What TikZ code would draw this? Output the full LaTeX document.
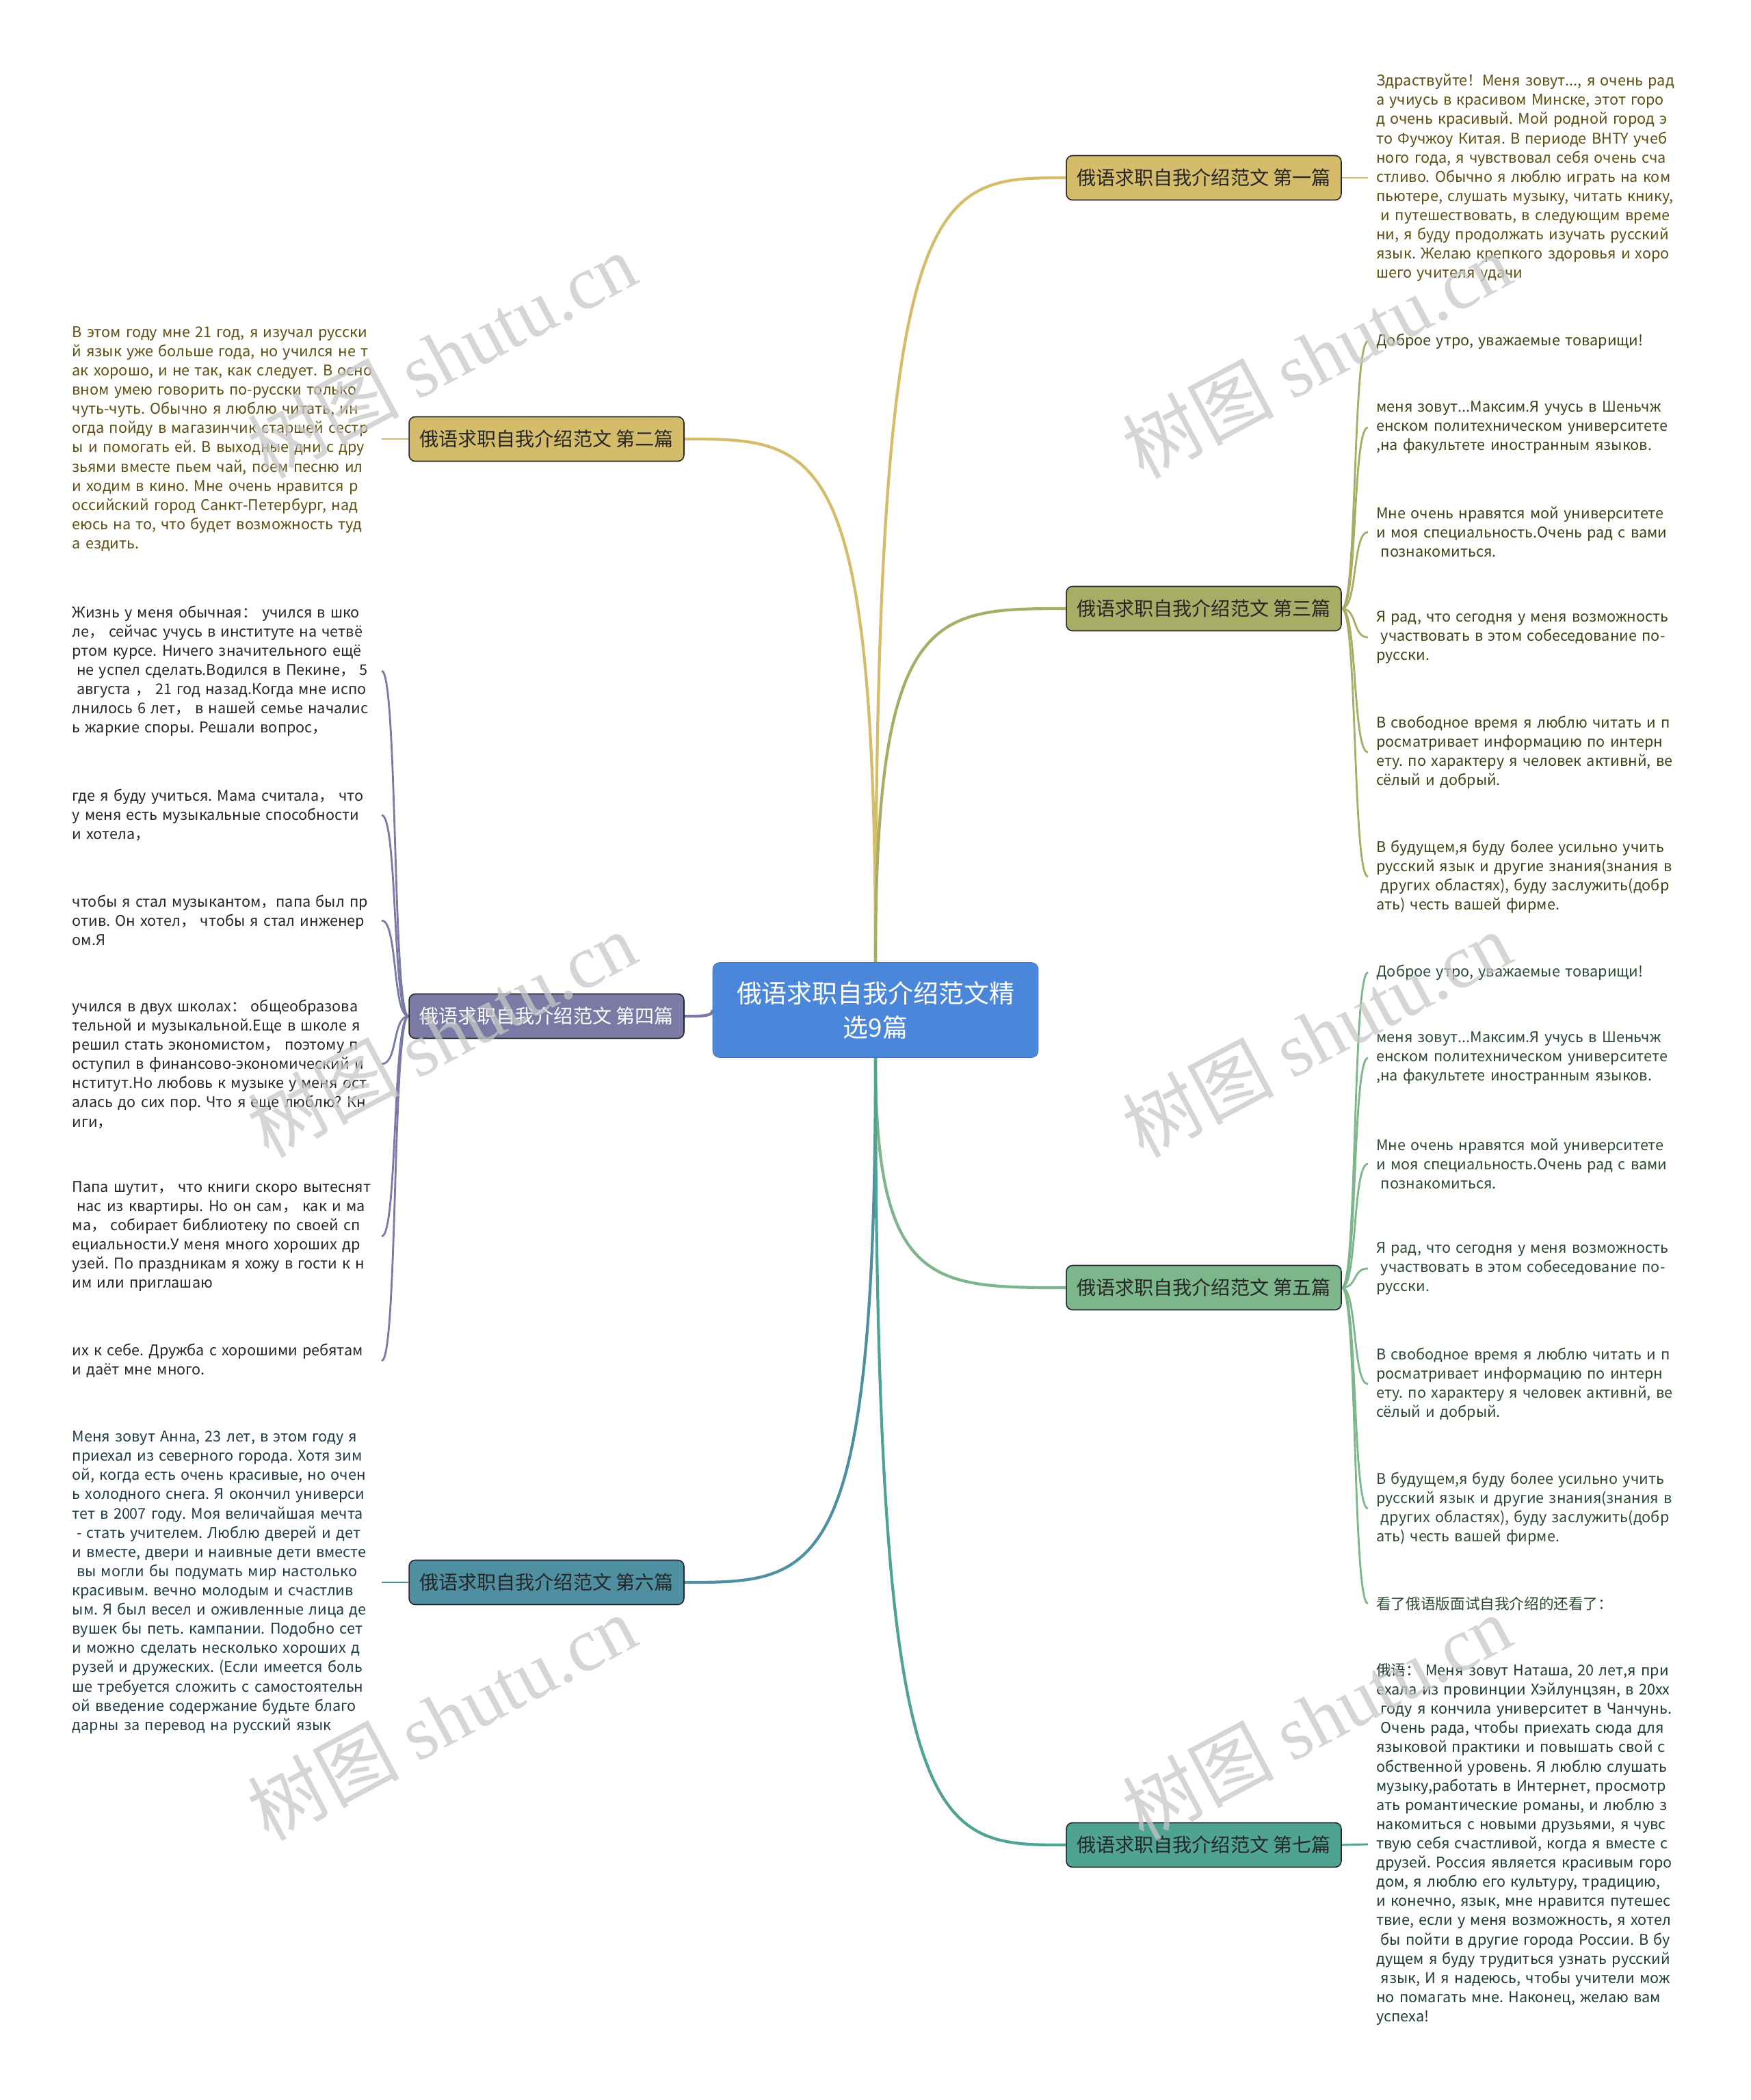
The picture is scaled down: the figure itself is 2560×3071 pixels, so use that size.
\documentclass[tikz,border=0pt]{standalone}
\usepackage{fontspec}
\setmainfont{Noto Sans CJK SC}
\newfontfamily\wmfont{Liberation Serif}
\usetikzlibrary{calc, backgrounds}
\frenchspacing

\definecolor{rootblue}{HTML}{4A86DA}
\definecolor{goldc}{HTML}{D4BC6A}
\definecolor{olivec}{HTML}{A8AD66}
\definecolor{slatec}{HTML}{7B7AA6}
\definecolor{sagec}{HTML}{7DB68B}
\definecolor{tealc}{HTML}{4F8FA2}
\definecolor{jadec}{HTML}{4EA393}
\definecolor{goldtext}{HTML}{5E4E12}
\definecolor{olivetext}{HTML}{3E4416}
\definecolor{slatetext}{HTML}{262626}
\definecolor{sagetext}{HTML}{2C4A31}
\definecolor{tealtext}{HTML}{1F3B45}
\definecolor{jadetext}{HTML}{1F3D37}

\tikzset{
  root/.style={draw=rootblue!85!black, fill=rootblue, text=white, rounded corners=0.2cm,
    minimum width=9.52cm, minimum height=2.78cm, align=center, font={\fontsize{21}{28.5}\selectfont}},
  topic/.style={draw=black!85, line width=0.9pt, rounded corners=0.18cm, minimum width=8.04cm,
    minimum height=1.3cm, inner xsep=0.2cm, text=black!85, font={\fontsize{16}{19}\selectfont}},
  leaf/.style={align=left, text width=9cm, inner xsep=0.24cm, inner ysep=2pt, font={\fontsize{12.3}{16}\selectfont}},
  lleaf/.style={leaf, text width=8.8cm},
  branch/.style={line width=2.4pt, to path={.. controls (\tikztostart |- \tikztotarget)
    and ($(\tikztostart |- \tikztotarget)!0.3!(\tikztotarget)$) .. (\tikztotarget)}},
  twig/.style={line width=1.6pt, to path={.. controls ($(\tikztostart)!0.6!(\tikztostart -| \tikztotarget)$)
    and ($(\tikztotarget)!0.6!(\tikztotarget -| \tikztostart)$) .. (\tikztotarget)}},
  wmtext/.style={text=black!22, opacity=0.75, rotate=28, font={\fontsize{63}{65}\selectfont}}
}

\begin{document}
\begin{tikzpicture}[x=0.02cm, y=-0.02cm]
  \useasboundingbox (0,0) rectangle (2560,3071);

  \node (c) at (1280,1477)[root] {俄语求职自我介绍范文精\\选9篇};

  \node (b1) at (1760,260)[topic,fill=goldc] {俄语求职自我介绍范文 第一篇};
  \node (b2) at (799,642)[topic,fill=goldc] {俄语求职自我介绍范文 第二篇};
  \node (b3) at (1760,890)[topic,fill=olivec] {俄语求职自我介绍范文 第三篇};
  \node (b4) at (799,1486)[topic,fill=slatec,text=white] {俄语求职自我介绍范文 第四篇};
  \node (b5) at (1760,1883)[topic,fill=sagec] {俄语求职自我介绍范文 第五篇};
  \node (b6) at (799,2314)[topic,fill=tealc] {俄语求职自我介绍范文 第六篇};
  \node (b7) at (1760,2698)[topic,fill=jadec] {俄语求职自我介绍范文 第七篇};

  \node (t1) at (2000,260)[leaf,anchor=west,text=goldtext] {Здраствуйте！Меня зовут..., я очень рад\\
    а учиусь в красивом Минске, этот горо\\
    д очень красивый. Мой родной город э\\
    то Фучжоу Китая. В периоде ВНТY учеб\\
    ного года, я чувствовал себя очень сча\\
    стливо. Обычно я люблю играть на ком\\
    пьютере, слушать музыку, читать книку,\\
    \hspace*{0.3em}и путешествовать, в следующим време\\
    ни, я буду продолжать изучать русский\\
    язык. Желаю крепкого здоровья и хоро\\
    шего учителя удачи};

  \node (t2) at (558,642)[lleaf,anchor=east,text=goldtext] {В этом году мне 21 год, я изучал русски\\
    й язык уже больше года, но учился не т\\
    ак хорошо, и не так, как следует. В осно\\
    вном умею говорить по-русски только\\
    чуть-чуть. Обычно я люблю читать, ин\\
    огда пойду в магазинчик старшей сестр\\
    ы и помогать ей. В выходные дни с дру\\
    зьями вместе пьем чай, поем песню ил\\
    и ходим в кино. Мне очень нравится р\\
    оссийский город Санкт-Петербург, над\\
    еюсь на то, что будет возможность туд\\
    а ездить.};

  \node (l31) at (2000,499)[leaf,anchor=west,text=olivetext] {Доброе утро, уважаемые товарищи!};
  \node (l32) at (2000,625)[leaf,anchor=west,text=olivetext] {меня зовут...Максим.Я учусь в Шеньчж\\
    енском политехническом университете\\
    ,на факультете иностранным языков.};
  \node (l33) at (2000,778)[leaf,anchor=west,text=olivetext] {Мне очень нравятся мой университете\\
    и моя специальность.Очень рад с вами\\
    \hspace*{0.3em}познакомиться.};
  \node (l34) at (2000,932)[leaf,anchor=west,text=olivetext] {Я рад, что сегодня у меня возможность\\
    \hspace*{0.3em}участвовать в этом собеседование по-\\
    русски.};
  \node (l35) at (2000,1100)[leaf,anchor=west,text=olivetext] {В свободное время я люблю читать и п\\
    росматривает информацию по интерн\\
    ету. по характеру я человек активнй, ве\\
    сёлый и добрый.};
  \node (l36) at (2000,1282)[leaf,anchor=west,text=olivetext] {В будущем,я буду более усильно учить\\
    русский язык и другие знания(знания в\\
    \hspace*{0.3em}других областях), буду заслужить(добр\\
    ать) честь вашей фирме.};

  \node (l41) at (558,981)[lleaf,anchor=east,text=slatetext] {Жизнь у меня обычная： учился в шко\\
    ле， сейчас учусь в институте на четвё\\
    ртом курсе. Ничего значительного ещё\\
    \hspace*{0.3em}не успел сделать.Водился в Пекине， 5\\
    \hspace*{0.3em}августа ， 21 год назад.Когда мне испо\\
    лнилось 6 лет， в нашей семье началис\\
    ь жаркие споры. Решали вопрос，};
  \node (l42) at (558,1192)[lleaf,anchor=east,text=slatetext] {где я буду учиться. Мама считала， что\\
    у меня есть музыкальные способности\\
    и хотела，};
  \node (l43) at (558,1346)[lleaf,anchor=east,text=slatetext] {чтобы я стал музыкантом，папа был пр\\
    отив. Он хотел， чтобы я стал инженер\\
    ом.Я};
  \node (l44) at (558,1556)[lleaf,anchor=east,text=slatetext] {учился в двух школах： общеобразова\\
    тельной и музыкальной.Еще в школе я\\
    решил стать экономистом， поэтому п\\
    оступил в финансово-экономический и\\
    нститут.Но любовь к музыке у меня ост\\
    алась до сих пор. Что я еще люблю? Кн\\
    иги，};
  \node (l45) at (558,1808)[lleaf,anchor=east,text=slatetext] {Папа шутит， что книги скоро вытеснят\\
    \hspace*{0.3em}нас из квартиры. Но он сам， как и ма\\
    ма， собирает библиотеку по своей сп\\
    ециальности.У меня много хороших др\\
    узей. По праздникам я хожу в гости к н\\
    им или приглашаю};
  \node (l46) at (558,1990)[lleaf,anchor=east,text=slatetext] {их к себе. Дружба с хорошими ребятам\\
    и даёт мне много.};

  \node (l51) at (2000,1422)[leaf,anchor=west,text=sagetext] {Доброе утро, уважаемые товарищи!};
  \node (l52) at (2000,1547)[leaf,anchor=west,text=sagetext] {меня зовут...Максим.Я учусь в Шеньчж\\
    енском политехническом университете\\
    ,на факультете иностранным языков.};
  \node (l53) at (2000,1702)[leaf,anchor=west,text=sagetext] {Мне очень нравятся мой университете\\
    и моя специальность.Очень рад с вами\\
    \hspace*{0.3em}познакомиться.};
  \node (l54) at (2000,1855)[leaf,anchor=west,text=sagetext] {Я рад, что сегодня у меня возможность\\
    \hspace*{0.3em}участвовать в этом собеседование по-\\
    русски.};
  \node (l55) at (2000,2024)[leaf,anchor=west,text=sagetext] {В свободное время я люблю читать и п\\
    росматривает информацию по интерн\\
    ету. по характеру я человек активнй, ве\\
    сёлый и добрый.};
  \node (l56) at (2000,2206)[leaf,anchor=west,text=sagetext] {В будущем,я буду более усильно учить\\
    русский язык и другие знания(знания в\\
    \hspace*{0.3em}других областях), буду заслужить(добр\\
    ать) честь вашей фирме.};
  \node (l57) at (2000,2345)[leaf,anchor=west,text=sagetext] {看了俄语版面试自我介绍的还看了：};

  \node (t6) at (558,2314)[lleaf,anchor=east,text=tealtext] {Меня зовут Анна, 23 лет, в этом году я\\
    приехал из северного города. Хотя зим\\
    ой, когда есть очень красивые, но очен\\
    ь холодного снега. Я окончил универси\\
    тет в 2007 году. Моя величайшая мечта\\
    \hspace*{0.3em}- стать учителем. Люблю дверей и дет\\
    и вместе, двери и наивные дети вместе\\
    \hspace*{0.3em}вы могли бы подумать мир настолько\\
    красивым. вечно молодым и счастлив\\
    ым. Я был весел и оживленные лица де\\
    вушек бы петь. кампании. Подобно сет\\
    и можно сделать несколько хороших д\\
    рузей и дружеских. (Если имеется боль\\
    ше требуется сложить с самостоятельн\\
    ой введение содержание будьте благо\\
    дарны за перевод на русский язык};

  \node (t7) at (2000,2697)[leaf,anchor=west,text=jadetext] {俄语： Меня зовут Наташа, 20 лет,я при\\
    ехала из провинции Хэйлунцзян, в 20xx\\
    \hspace*{0.3em}году я кончила университет в Чанчунь.\\
    \hspace*{0.3em}Очень рада, чтобы приехать сюда для\\
    языковой практики и повышать свой с\\
    обственной уровень. Я люблю слушать\\
    музыку,работать в Интернет, просмотр\\
    ать романтические романы, и люблю з\\
    накомиться с новыми друзьями, я чувс\\
    твую себя счастливой, когда я вместе с\\
    друзей. Россия является красивым горо\\
    дом, я люблю его культуру, традицию,\\
    и конечно, язык, мне нравится путешес\\
    твие, если у меня возможность, я хотел\\
    \hspace*{0.3em}бы пойти в другие города России. В бу\\
    дущем я буду трудиться узнать русский\\
    \hspace*{0.3em}язык, И я надеюсь, чтобы учители мож\\
    но помагать мне. Наконец, желаю вам\\
    успеха!};

  \begin{scope}[on background layer]
    \fill [white] (0,0) rectangle (2560,3071);
    \draw [branch, draw=goldc] (c.north) to (b1.west);
    \draw [branch, draw=goldc] (c.north) to (b2.east);
    \draw [branch, draw=olivec] (c.north) to (b3.west);
    \draw [branch, draw=slatec] (c.west) to (b4.east);
    \draw [branch, draw=sagec] (c.south) to (b5.west);
    \draw [branch, draw=tealc] (c.south) to (b6.east);
    \draw [branch, draw=jadec] (c.south) to (b7.west);
    \draw [twig, draw=goldc] (b1.east) -- (t1.west);
    \draw [twig, draw=goldc] (t2.east) -- (b2.west);
    \draw [twig, draw=tealc] (t6.east) -- (b6.west);
    \draw [twig, draw=jadec] (b7.east) -- (t7.west);
    \foreach \i in {1,...,6}
      \draw [twig, draw=olivec] (b3.east) to (l3\i.west);
    \foreach \i in {1,...,6}
      \draw [twig, draw=slatec] (b4.west) to (l4\i.east);
    \foreach \i in {1,...,7}
      \draw [twig, draw=sagec] (b5.east) to (l5\i.west);
  \end{scope}

  \node (w1) at (646,519)[wmtext] {树图 {\wmfont shutu.cn}};
  \node (w2) at (1925,519)[wmtext] {树图 {\wmfont shutu.cn}};
  \node (w3) at (646,1512)[wmtext] {树图 {\wmfont shutu.cn}};
  \node (w4) at (1925,1512)[wmtext] {树图 {\wmfont shutu.cn}};
  \node (w5) at (646,2511)[wmtext] {树图 {\wmfont shutu.cn}};
  \node (w6) at (1925,2511)[wmtext] {树图 {\wmfont shutu.cn}};
\end{tikzpicture}
\end{document}
